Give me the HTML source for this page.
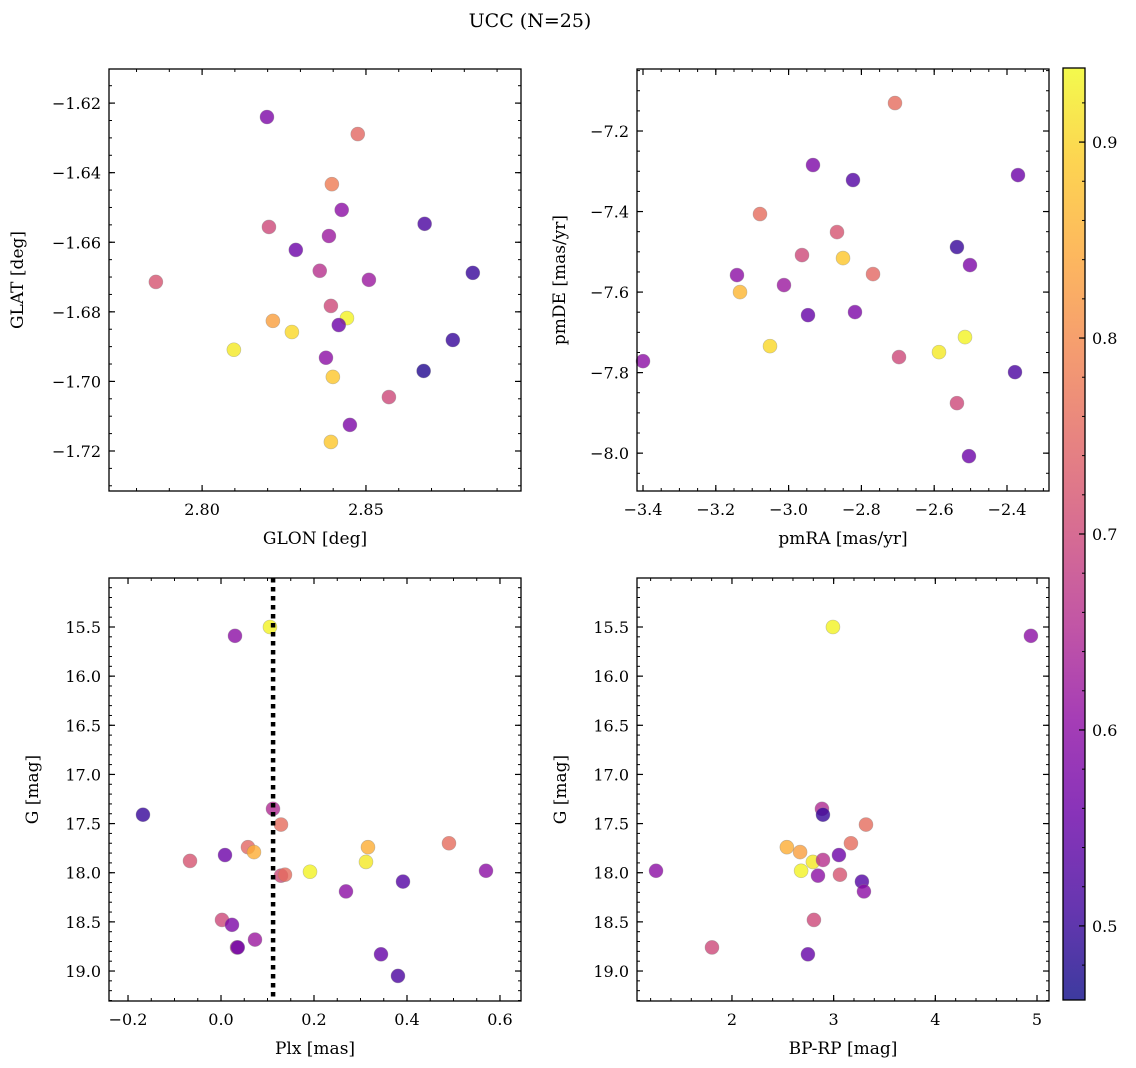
<!DOCTYPE html>
<html><head><meta charset="utf-8">
<style>
html,body{margin:0;padding:0;background:#fff;}
svg{display:block;font-family:"DejaVu Serif","Liberation Serif",serif;}
</style></head>
<body>
<svg id="fig" width="1136" height="1068" viewBox="0 0 1136 1068" xmlns="http://www.w3.org/2000/svg">
<defs>
<linearGradient id="cbgrad" x1="0" y1="1" x2="0" y2="0">
<stop offset="0" stop-color="#3d3a9f"/><stop offset="0.1" stop-color="#6736b0"/><stop offset="0.2" stop-color="#8833b9"/><stop offset="0.3" stop-color="#a53db6"/><stop offset="0.4" stop-color="#c155a6"/><stop offset="0.5" stop-color="#d66c93"/><stop offset="0.6" stop-color="#e78381"/><stop offset="0.7" stop-color="#f59d6f"/><stop offset="0.8" stop-color="#fdb85e"/><stop offset="0.9" stop-color="#fdd451"/><stop offset="1" stop-color="#f3fa4d"/>
</linearGradient>
</defs>
<text x="530" y="27" font-size="19" text-anchor="middle">UCC (N=25)</text>
</svg>
<script>
// ---- data ----
const glonVals=[2.8198,2.8475,2.8396,2.8426,2.8204,2.8679,2.8286,2.8387,2.8359,2.8509,2.8826,2.7859,2.8216,2.8442,2.8274,2.8393,2.8417,2.8097,2.8378,2.8765,2.8399,2.8676,2.857,2.8451,2.8393];
const glatVals=[-1.624,-1.6289,-1.6433,-1.6507,-1.6556,-1.6547,-1.6622,-1.6582,-1.6682,-1.6708,-1.6688,-1.6714,-1.6826,-1.6818,-1.6858,-1.6783,-1.6838,-1.6909,-1.6932,-1.6881,-1.6987,-1.697,-1.7045,-1.7125,-1.7174];
const probTL=[0.58,0.75,0.78,0.6,0.7,0.52,0.56,0.62,0.66,0.62,0.5,0.72,0.83,0.93,0.9,0.7,0.56,0.92,0.6,0.5,0.88,0.48,0.7,0.58,0.88];
const pmraVals=[-2.7077,-2.933,-2.8231,-3.0786,-2.3698,-2.867,-2.5375,-2.8505,-2.9632,-3.1418,-2.7681,-2.5017,-3.1335,-3.0127,-2.9467,-2.8176,-3.0511,-3.4,-2.5868,-2.5154,-2.6967,-2.378,-2.5375,-2.5045];
const pmdeVals=[-7.1305,-7.2845,-7.3218,-7.4062,-7.3094,-7.451,-7.4882,-7.5156,-7.5081,-7.5578,-7.5553,-7.533,-7.6,-7.5826,-7.6572,-7.6497,-7.7342,-7.7715,-7.7491,-7.7118,-7.7615,-7.7988,-7.8758,-8.0075];
const probTR=[0.76,0.58,0.53,0.76,0.56,0.72,0.5,0.88,0.7,0.6,0.75,0.58,0.86,0.62,0.55,0.58,0.9,0.6,0.92,0.93,0.7,0.52,0.7,0.56];
const plxVals=[0.1053,0.0301,-0.1678,0.1118,0.129,0.058,0.0709,0.0086,-0.0667,0.3161,0.4903,0.5699,0.3118,0.1914,0.129,0.1376,0.3914,0.2688,0.0021,0.0236,0.0731,0.0344,0.036,0.3441,0.3806];
const gPlxVals=[15.5,15.59,17.41,17.35,17.51,17.74,17.79,17.82,17.88,17.74,17.70,17.98,17.89,17.99,18.03,18.02,18.09,18.19,18.48,18.53,18.68,18.76,18.76,18.83,19.05];
const probBL=[0.93,0.6,0.5,0.65,0.76,0.75,0.85,0.56,0.72,0.85,0.76,0.6,0.92,0.93,0.7,0.76,0.53,0.6,0.7,0.58,0.62,0.68,0.56,0.55,0.52];
const bprpVals=[2.993,4.94,2.885,2.895,3.318,3.17,2.54,2.67,3.052,2.796,2.895,1.253,2.68,2.846,3.062,3.278,3.298,2.806,1.8035,2.747];
const gColVals=[15.5,15.59,17.35,17.41,17.51,17.70,17.74,17.79,17.82,17.89,17.87,17.98,17.98,18.03,18.02,18.09,18.19,18.48,18.76,18.83];
const probBR=[0.93,0.6,0.65,0.5,0.76,0.76,0.85,0.83,0.56,0.92,0.66,0.6,0.93,0.6,0.72,0.53,0.6,0.7,0.7,0.55];
const plxLine=[0.112];
const cbTicks=[0.5,0.6,0.7,0.8,0.9];

const NS='http://www.w3.org/2000/svg';
const svg=document.getElementById('fig');
function mk(tag,attrs,parent){const e=document.createElementNS(NS,tag);for(const k in attrs)e.setAttribute(k,attrs[k]);(parent||svg).appendChild(e);return e;}
const VMIN=0.4622,VMAX=0.9378;
const stops=[[13,8,135],[65,4,157],[106,0,168],[143,13,164],[177,42,144],[204,71,120],[225,100,98],[242,132,75],[252,166,54],[252,206,37],[240,249,33]];
function plasma(p){let t=(p-VMIN)/(VMAX-VMIN);t=Math.max(0,Math.min(1,t))*10;const i=Math.min(9,Math.floor(t)),f=t-i;const a=stops[i],b=stops[i+1];return 'rgb('+a.map((v,k)=>Math.round(v+(b[k]-v)*f)).join(',')+')';}
function fmt(v,d){let s=v.toFixed(d);if(v<0||s.startsWith('-'))s='\u2212'+s.replace('-','');return s;}

function panel(o){
  const g=mk('g',{});
  
  
  const X=v=>o.x0+(v-o.xmin)/(o.xmax-o.xmin)*o.w;
  const Y=o.invert?(v=>o.y0+(v-o.ymin)/(o.ymax-o.ymin)*o.h):(v=>o.y0+o.h-(v-o.ymin)/(o.ymax-o.ymin)*o.h);
  for(let i=0;i<o.xs.length;i++){
    const c=mk('circle',{cx:X(o.xs[i]),cy:Y(o.ys[i]),r:7,fill:plasma(o.ps[i]),'fill-opacity':0.8,stroke:'#888','stroke-opacity':0.5,'stroke-width':0.6},g);
    
    
  }
  if(o.vline){const l=mk('line',{x1:X(o.vline[0]),x2:X(o.vline[0]),y1:o.y0,y2:o.y0+o.h,stroke:'#000','stroke-width':4.5,'stroke-dasharray':'4.5 4.5'},g);
    
    }
  const f=mk('rect',{x:o.x0,y:o.y0,width:o.w,height:o.h,fill:'none',stroke:'#000','stroke-width':1.3},g);
  
  
  const eps=1e-9;
  function range(step){const a=[];let s=Math.ceil(o.xmin/step-eps);for(let v=s*step;v<=o.xmax+eps;v=(++s)*step)a.push(v);return a;}
  function rangeY(step){const a=[];let s=Math.ceil(o.ymin/step-eps);for(let v=s*step;v<=o.ymax+eps;v=(++s)*step)a.push(v);return a;}
  range(o.xminor).forEach(v=>{const x=X(v);mk('line',{x1:x,x2:x,y1:o.y0+o.h,y2:o.y0+o.h-3,stroke:'#000','stroke-width':1},g);mk('line',{x1:x,x2:x,y1:o.y0,y2:o.y0+3,stroke:'#000','stroke-width':1},g);});
  range(o.xmajor).forEach(v=>{const x=X(v);mk('line',{x1:x,x2:x,y1:o.y0+o.h,y2:o.y0+o.h-6,stroke:'#000','stroke-width':1.2},g);mk('line',{x1:x,x2:x,y1:o.y0,y2:o.y0+6,stroke:'#000','stroke-width':1.2},g);
    const t=mk('text',{x:x,y:o.y0+o.h+24,'font-size':16,'text-anchor':'middle'},g);t.textContent=fmt(v,o.xdec);
    });
  rangeY(o.yminor).forEach(v=>{const y=Y(v);mk('line',{x1:o.x0,x2:o.x0+3,y1:y,y2:y,stroke:'#000','stroke-width':1},g);mk('line',{x1:o.x0+o.w,x2:o.x0+o.w-3,y1:y,y2:y,stroke:'#000','stroke-width':1},g);});
  rangeY(o.ymajor).forEach(v=>{const y=Y(v);mk('line',{x1:o.x0,x2:o.x0+6,y1:y,y2:y,stroke:'#000','stroke-width':1.2},g);mk('line',{x1:o.x0+o.w,x2:o.x0+o.w-6,y1:y,y2:y,stroke:'#000','stroke-width':1.2},g);
    const t=mk('text',{x:o.x0-8,y:y+6,'font-size':16,'text-anchor':'end'},g);t.textContent=fmt(v,o.ydec);
    });
  const xl=mk('text',{x:o.x0+o.w/2,y:o.y0+o.h+53,'font-size':17,'text-anchor':'middle'},g);xl.textContent=o.xlabel;
  
  const cy=o.y0+o.h/2;
  const yl=mk('text',{x:o.ylx,y:cy,'font-size':17,'text-anchor':'middle',transform:'rotate(-90 '+o.ylx+' '+cy+')'},g);yl.textContent=o.ylabel;
  
}
panel({name:'glon-glat-panel',x0:109,y0:69,w:412,h:422,xmin:2.7716,xmax:2.8973,ymin:-1.7315,ymax:-1.6102,xs:glonVals,ys:glatVals,ps:probTL,xmajor:0.05,xminor:0.01,ymajor:0.02,yminor:0.005,xdec:2,ydec:2,xlabel:'GLON [deg]',ylabel:'GLAT [deg]',ylx:23});
panel({name:'pm-panel',x0:637,y0:69,w:412,h:422,xmin:-3.4165,xmax:-2.2846,ymin:-8.094,ymax:-7.046,xs:pmraVals,ys:pmdeVals,ps:probTR,xmajor:0.2,xminor:0.05,ymajor:0.2,yminor:0.05,xdec:1,ydec:1,xlabel:'pmRA [mas/yr]',ylabel:'pmDE [mas/yr]',ylx:565});
panel({name:'plx-g-panel',x0:109,y0:578,w:412,h:423,xmin:-0.2409,xmax:0.6452,ymin:15.0015,ymax:19.305,invert:true,xs:plxVals,ys:gPlxVals,ps:probBL,vline:plxLine,xmajor:0.2,xminor:0.05,ymajor:0.5,yminor:0.1,xdec:1,ydec:1,xlabel:'Plx [mas]',ylabel:'G [mag]',ylx:38});
panel({name:'cmd-panel',x0:637,y0:578,w:412,h:423,xmin:1.066,xmax:5.118,ymin:15.0015,ymax:19.305,invert:true,xs:bprpVals,ys:gColVals,ps:probBR,xmajor:1,xminor:0.2,ymajor:0.5,yminor:0.1,xdec:0,ydec:1,xlabel:'BP-RP [mag]',ylabel:'G [mag]',ylx:566});
const cb=mk('g',{});


mk('rect',{x:1063,y:68,width:22,height:932,fill:'url(#cbgrad)',stroke:'#000','stroke-width':1.3},cb);
const CY=v=>1000-(v-VMIN)/(VMAX-VMIN)*932;
for(let k=Math.ceil(VMIN/0.02);k*0.02<=VMAX;k++){const y=CY(k*0.02);mk('line',{x1:1085,x2:1082,y1:y,y2:y,stroke:'#000','stroke-width':1},cb);}
cbTicks.forEach(v=>{const y=CY(v);mk('line',{x1:1085,x2:1079,y1:y,y2:y,stroke:'#000','stroke-width':1.2},cb);
  const t=mk('text',{x:1092,y:y+6,'font-size':16},cb);t.textContent=v.toFixed(1);
  });
</script>
</body></html>
